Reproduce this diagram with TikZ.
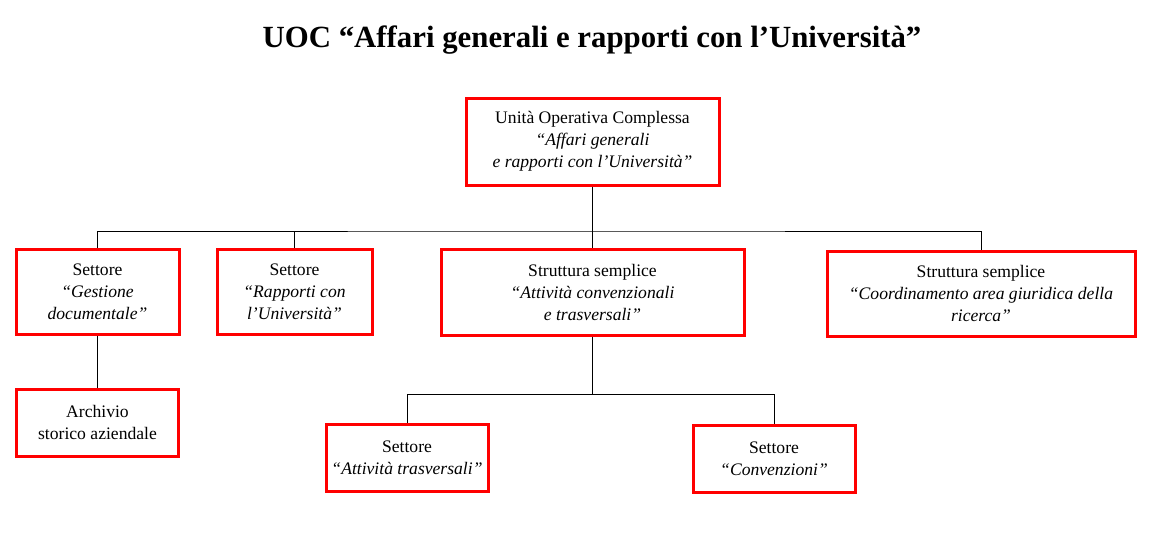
\documentclass[tikz,border=0pt]{standalone}
\usepackage{fontspec}
\setmainfont{Liberation Serif}
\begin{document}
\begin{tikzpicture}[x=1pt,y=-1pt,
  box/.style={draw=red,line width=3pt,align=center,inner sep=0pt,font=\fontsize{17.6}{22}\selectfont},
  conn/.style={draw=black,line width=0.9pt}]
\useasboundingbox (0,0) rectangle (1158,542);
\node[font=\bfseries\fontsize{30.8}{36}\selectfont] (title) at (592,40) {UOC “Affari generali e rapporti con l’Università”};
\node[box,minimum width=253,minimum height=87] (uoc) at (592.5,141.5) {Unità Operativa Complessa\\\textit{“Affari generali}\\\textit{e rapporti con l’Università”}};
\node[box,minimum width=163,minimum height=85] (gest) at (97.5,291.5) {Settore\\\textit{“Gestione}\\\textit{documentale”}};
\node[box,minimum width=155,minimum height=85] (rapp) at (294.5,291.5) {Settore\\\textit{“Rapporti con}\\\textit{l’Università”}};
\node[box,minimum width=303,minimum height=86] (attc) at (592.5,292) {Struttura semplice\\\textit{“Attività convenzionali}\\\textit{e trasversali”}};
\node[box,minimum width=308,minimum height=85] (coord) at (981,293.5) {Struttura semplice\\\textit{“Coordinamento area giuridica della}\\\textit{ricerca”}};
\node[box,minimum width=162,minimum height=67] (arch) at (97.5,422.5) {Archivio\\storico aziendale};
\node[box,minimum width=162,minimum height=67] (atttr) at (407,457.5) {Settore\\\textit{“Attività trasversali”}};
\node[box,minimum width=162,minimum height=67] (conv) at (774,458.5) {Settore\\\textit{“Convenzioni”}};
\coordinate (h1) at (592.5,231);
\coordinate (h2) at (592.5,394);
\draw[conn] (uoc.south) -- (attc.north);
\draw[conn] (gest.north) |- (h1) -| (coord.north);
\draw[conn] (rapp.north) -- (rapp.north |- h1);
\draw[conn] (gest.south) -- (arch.north);
\draw[conn] (attc.south) -- (h2);
\draw[conn] (atttr.north) |- (h2) -| (conv.north);
\end{tikzpicture}
\end{document}
